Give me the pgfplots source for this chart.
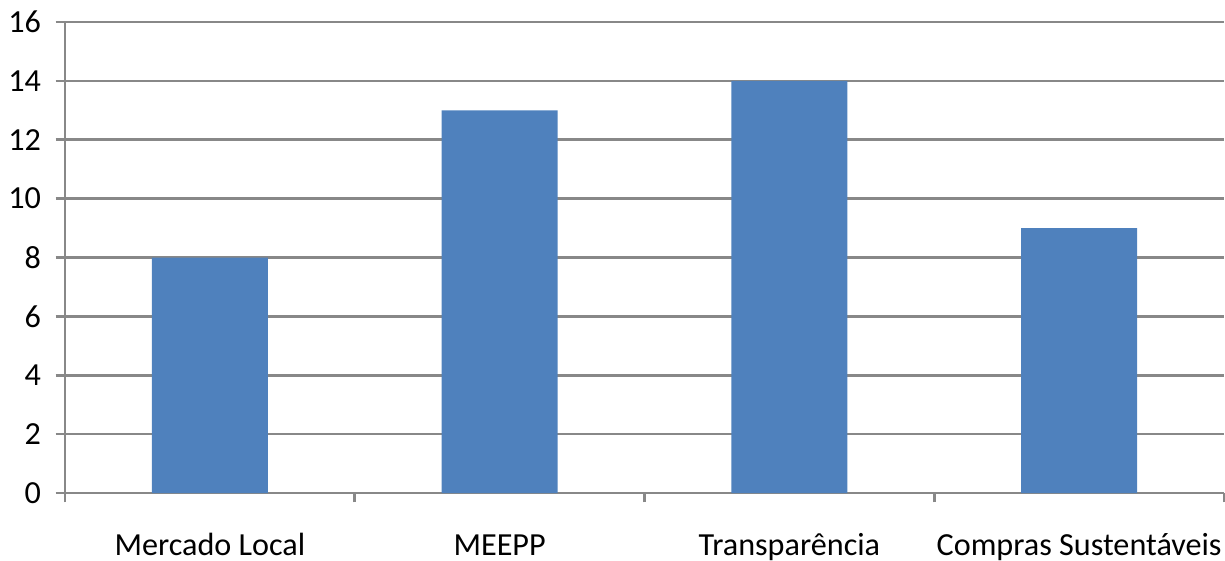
\documentclass[border=0pt]{standalone}
\usepackage{pgfplots}
\pgfplotsset{compat=1.18}
\usepackage{fontspec}
\setmainfont{Carlito}
\definecolor{barblue}{HTML}{4F81BD}
\definecolor{gridgray}{HTML}{888888}
\begin{document}
\begin{tikzpicture}
\begin{axis}[
    scale only axis,
    width=16.08cm,
    height=6.536cm,
    ymin=0, ymax=16,
    ytick={0,2,...,16},
    xmin=-0.5, xmax=3.5,
    xtick={-0.5,0.5,...,3.5},
    xticklabels={},
    extra x ticks={0,1,2,3},
    extra x tick labels={Mercado Local, MEEPP, Transparência, Compras Sustentáveis},
    extra x tick style={major tick length=0pt, grid=none,
        tick label style={anchor=base, yshift=-0.86cm}},
    ymajorgrids,
    grid style={gridgray, line width=1pt},
    axis line style={gridgray, line width=1pt},
    axis x line*=bottom,
    axis y line*=left,
    tick style={gridgray, line width=1pt},
    tick align=outside,
    major tick length=0.13cm,
    xtick pos=bottom,
    ytick pos=left,
    tick label style={font=\fontsize{12.7}{15}\selectfont},
    yticklabel style={anchor=east, xshift=-0.08cm},
    /pgf/number format/assume math mode=true,
    ybar,
    bar width=0.4,
]
\addplot[fill=barblue, draw=none] coordinates {
    (0, 8)
    (1, 13)
    (2, 14)
    (3, 9)
};
\coordinate (ll) at (rel axis cs:0,0);
\coordinate (ur) at (rel axis cs:1,1);
\end{axis}
\pgfresetboundingbox
\path[use as bounding box] ([xshift=-0.902cm, yshift=-0.93cm]ll) rectangle ([xshift=0.014cm, yshift=0.305cm]ur);
\end{tikzpicture}
\end{document}
